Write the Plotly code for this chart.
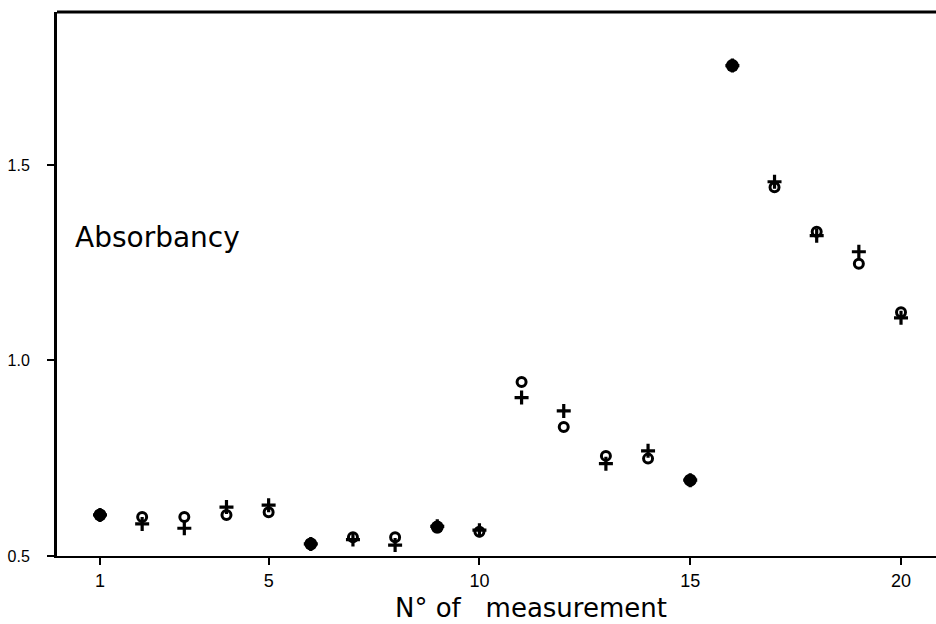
import plotly.graph_objects as go

measurement = list(range(1, 21))
circle_vals = [0.605, 0.600, 0.600, 0.605, 0.612, 0.531, 0.548, 0.548, 0.574, 0.562,
               0.945, 0.830, 0.756, 0.749, 0.694, 1.754, 1.443, 1.329, 1.247, 1.123]
cross_vals = [0.605, 0.582, 0.571, 0.625, 0.630, 0.531, 0.542, 0.528, 0.576, 0.566,
              0.905, 0.871, 0.736, 0.769, 0.694, 1.754, 1.457, 1.319, 1.278, 1.109]
x_ticks = [1, 5, 10, 15, 20]
y_ticks = [0.5, 1.0, 1.5]
y_tick_labels = ["0.5", "1.0", "1.5"]

same_x = [x for x, a, b in zip(measurement, circle_vals, cross_vals) if abs(a - b) < 0.003]
same_y = [a for a, b in zip(circle_vals, cross_vals) if abs(a - b) < 0.003]

fig = go.Figure()
fig.add_trace(go.Scatter(
    x=measurement, y=circle_vals, mode="markers",
    marker=dict(symbol="circle-open", size=9, color="black", line=dict(width=3)),
    showlegend=False))
fig.add_trace(go.Scatter(
    x=measurement, y=cross_vals, mode="markers",
    marker=dict(symbol="cross-thin", size=10, color="black", line=dict(width=3.2, color="black")),
    showlegend=False))
fig.add_trace(go.Scatter(
    x=same_x, y=same_y, mode="markers",
    marker=dict(symbol="circle", size=13, color="black"),
    showlegend=False))

fig.update_layout(
    width=936, height=624,
    margin=dict(l=57, r=0, t=12, b=68),
    paper_bgcolor="white", plot_bgcolor="white",
    font=dict(family="DejaVu Sans, Lato, sans-serif", color="black"),
    xaxis=dict(
        range=[-0.02, 20.83], showgrid=False, zeroline=False,
        showline=True, linecolor="black", linewidth=2,
        tickmode="array", tickvals=x_ticks,
        ticks="outside", ticklen=7, tickwidth=1.5, tickcolor="black",
        tickfont=dict(size=18, family="Liberation Sans, Arial, sans-serif"),
    ),
    yaxis=dict(
        range=[0.5, 1.891], showgrid=False, zeroline=False,
        showline=True, linecolor="black", linewidth=3,
        tickmode="array", tickvals=y_ticks, ticktext=y_tick_labels,
        ticks="outside", ticklen=7, tickwidth=1.5, tickcolor="black",
        tickfont=dict(size=16, family="Liberation Sans, Arial, sans-serif"),
        ticklabelstandoff=14,
    ),
    shapes=[dict(type="line", xref="paper", yref="paper", x0=0, x1=1, y0=1, y1=1,
                 line=dict(color="black", width=3))],
    annotations=[
        dict(text="Absorbancy", xref="paper", yref="y", x=0.018, y=1.315,
             xanchor="left", yanchor="middle", showarrow=False,
             font=dict(size=28)),
        dict(text="N° of   measurement", xref="paper", yref="paper",
             x=(531 - 57) / 879, y=-52 / 544, xanchor="center", yanchor="middle",
             showarrow=False, font=dict(size=26)),
    ],
)

fig.write_html("out.html", config={"displayModeBar": False},
               post_script="document.body.style.margin='0';")
